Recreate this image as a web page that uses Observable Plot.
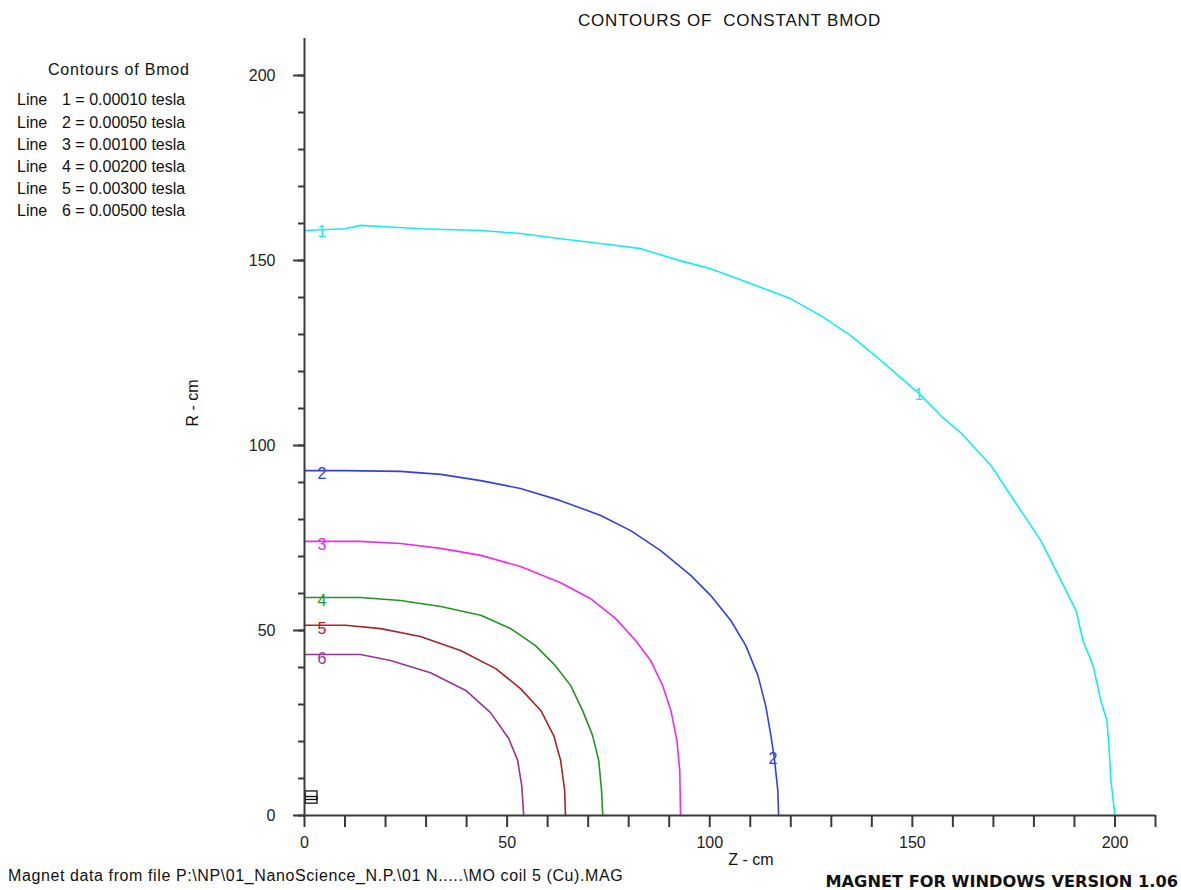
<!DOCTYPE html>
<html><head><meta charset="utf-8">
<script src="https://cdn.jsdelivr.net/npm/d3@7"></script>
<script src="https://cdn.jsdelivr.net/npm/@observablehq/plot@0.6"></script>
<style>
body{margin:0;background:#fff;}
#wrap{position:relative;width:1181px;height:890px;font-family:"Liberation Sans",Arial,sans-serif;color:#111;overflow:hidden;}
#wrap svg{position:absolute;left:0;top:0;}
.t{position:absolute;white-space:pre;line-height:1;}
</style></head><body><div id="wrap"></div>
<script>
// ---- data ----
const title = "CONTOURS OF  CONSTANT BMOD";
const legendTitle = "Contours of Bmod";
const lineIds = [1, 2, 3, 4, 5, 6];
const lineLevels = ["0.00010", "0.00050", "0.00100", "0.00200", "0.00300", "0.00500"];
const lineColors = ["#12eeee", "#3040ee", "#f028f0", "#1f971f", "#a82424", "#993399"];

const z1 = [0, 10.1, 13.8, 18.8, 28.6, 43.5, 53.3, 63.2, 73.1, 83, 92.8, 100.2, 110.1, 119.9, 127.4, 134.8, 142.2, 151.6, 157, 161.9, 169.4, 174.3, 181.7, 186.7, 190.4, 192.1, 194.6, 196.5, 198, 198.5, 199, 200];
const r1 = [158.1, 158.6, 159.5, 159.2, 158.6, 158.1, 157.3, 155.9, 154.6, 153.2, 149.9, 147.8, 143.8, 139.7, 135.1, 129.7, 123, 114.1, 108.1, 103.5, 94.6, 86.5, 74.3, 63.5, 55.4, 47.3, 40.5, 31.1, 25.7, 18.9, 9.5, 0];
const z2 = [0, 10.1, 23.7, 33.6, 43.5, 53.3, 63.2, 73.1, 80.5, 87.9, 95.3, 100.2, 105.2, 108.9, 111.9, 113.8, 115.1, 116, 116.8, 117];
const r2 = [93.2, 93.2, 93, 92.2, 90.5, 88.4, 85.1, 81.1, 77, 71.6, 64.9, 59.5, 52.7, 45.9, 37.8, 29.7, 21.6, 14.9, 6.8, 0];
const z3 = [0, 13.8, 23.7, 33.6, 43.5, 53.3, 63.2, 70.6, 76.8, 81.7, 85.4, 88.4, 90.4, 91.9, 92.6, 92.8];
const r3 = [74.1, 74.1, 73.5, 72.2, 70.3, 67.3, 62.9, 58.6, 53.2, 47.3, 41.9, 35.1, 28.4, 20.3, 12.2, 0];
const z4 = [0, 13.8, 23.7, 33.6, 43.5, 50.9, 57, 61.9, 65.7, 68.6, 71.1, 72.6, 73.3, 73.6];
const r4 = [58.9, 58.9, 58.1, 56.5, 54.1, 50.5, 45.9, 40.5, 35.1, 28.4, 21.6, 14.9, 6.8, 0];
const z5 = [0, 10.1, 18.8, 28.6, 38.5, 47.2, 53.3, 58.3, 61.5, 63.2, 64.2, 64.4];
const r5 = [51.4, 51.4, 50.5, 48.4, 44.6, 39.7, 34.3, 28.4, 21.6, 14.9, 6.8, 0];
const z6 = [0, 13.8, 21.2, 31.1, 39.8, 45.9, 50.4, 52.6, 53.6, 54.1];
const r6 = [43.5, 43.5, 41.9, 38.6, 33.8, 27.8, 20.8, 14.9, 8.1, 0];

// curve number labels placed on the contours
const labelLine = [1, 2, 3, 4, 5, 6, 1, 2];
const labelZ = [4.3, 4.3, 4.3, 4.3, 4.3, 4.3, 151.6, 115.6];
const labelR = [158.2, 92.8, 73.8, 58.6, 51.0, 43.0, 114.2, 15.8];

// coil outline (z1,z2,r1,r2)
const coilZ1 = [0.3, 0.3];
const coilZ2 = [3.2, 3.2];
const coilR1 = [3.2, 4.2];
const coilR2 = [6.5, 5.0];

const zTicks = d3.range(0, 211, 10);
const zTickLabels = [0, 50, 100, 150, 200];
const rTicks = d3.range(0, 201, 10);
const rTickLabels = [0, 50, 100, 150, 200];

const xLabel = "Z - cm";
const yLabel = "R - cm";
const footLeft = "Magnet data from file P:\\NP\\01_NanoScience_N.P.\\01 N.....\\MO coil 5 (Cu).MAG";
const footRight = "MAGNET FOR WINDOWS VERSION 1.06";

// ---- build ----
const zs = [z1, z2, z3, z4, z5, z6], rs = [r1, r2, r3, r4, r5, r6];
const curves = lineIds.map((id, i) => zs[i].map((z, j) => ({line: id, z, r: rs[i][j]})));
const labels = labelLine.map((l, i) => ({line: l, z: labelZ[i], r: labelR[i]}));
const coil = coilZ1.map((_, i) => ({z1: coilZ1[i], z2: coilZ2[i], r1: coilR1[i], r2: coilR2[i]}));

const axisColor = "#3a3a3a";
const marks = [
  ...curves.map((c, i) => Plot.line(c, {x: "z", y: "r", stroke: lineColors[i], strokeWidth: 1.6, curve: "linear"})),
  Plot.rect(coil, {x1: "z1", x2: "z2", y1: "r1", y2: "r2", stroke: "#111", fill: "none", strokeWidth: 1.3}),
  Plot.text(labels, {x: "z", y: "r", text: d => String(d.line), fill: d => lineColors[d.line - 1], fontSize: 16, dy: 2}),
  Plot.ruleY([0], {stroke: axisColor, strokeWidth: 2}),
  Plot.ruleX([0], {stroke: axisColor, strokeWidth: 2}),
  Plot.axisX({ticks: zTicks, tickSize: 12, tickPadding: 9, stroke: axisColor, strokeWidth: 2, fill: "#222",
    tickFormat: d => zTickLabels.includes(d) ? String(d) : "", label: null, fontSize: 16}),
  Plot.axisY({ticks: rTicks, tickSize: 6, stroke: axisColor, strokeWidth: 2, tickFormat: () => "", label: null}),
  Plot.axisY({ticks: rTickLabels, tickSize: 11, tickPadding: 18, stroke: axisColor, strokeWidth: 2, fill: "#222",
    tickFormat: d => String(d), label: null, fontSize: 16})
];

const chart = Plot.plot({
  width: 1181, height: 890,
  marginLeft: 304, marginRight: 26, marginTop: 38, marginBottom: 75,
  x: {domain: [0, 210], axis: null},
  y: {domain: [0, 210], axis: null},
  style: {fontFamily: "'Liberation Sans', Arial, sans-serif", fontSize: "16px", background: "white", overflow: "visible"},
  marks
});

const wrap = document.getElementById("wrap");
wrap.appendChild(chart);

function place(text, x, baseline, size, o = {}) {
  const d = document.createElement("div");
  d.className = "t";
  d.textContent = text;
  d.style.fontSize = size + "px";
  if (o.family) d.style.fontFamily = o.family;
  if (o.bold) d.style.fontWeight = "bold";
  if (o.ls) d.style.letterSpacing = o.ls + "px";
  d.style.left = x + "px";
  d.style.top = (baseline - 0.846 * size) + "px";
  let tr = "";
  if (o.anchor === "middle") tr = "translateX(-50%)";
  if (o.anchor === "end") tr = "translateX(-100%)";
  d.style.transform = tr;
  wrap.appendChild(d);
  return d;
}

place(title, 578, 26, 17, {ls: 0.8});
place(legendTitle, 48, 76, 16, {ls: 0.8});
lineIds.forEach((id, i) => {
  const b = 106 + i * 22.2;
  place("Line", 17, b, 16);
  place(`${id} = ${lineLevels[i]} tesla`, 62, b, 16);
});
place(xLabel, 751, 866, 16, {anchor: "middle"});
// rotated y label
const yl = document.createElement("div");
yl.className = "t";
yl.textContent = yLabel;
yl.style.fontSize = "16px";
yl.style.left = "193px";
yl.style.top = "403px";
yl.style.transform = "translate(-50%,-50%) rotate(-90deg)";
wrap.appendChild(yl);
place(footLeft, 8, 882, 16, {ls: 0.6});
place(footRight, 1178, 888, 16.2, {bold: true, anchor: "end", family: "'DejaVu Sans', Verdana, sans-serif"});
</script></body></html>
